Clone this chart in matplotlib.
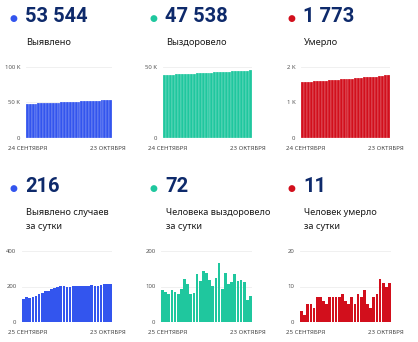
import matplotlib.pyplot as plt
import numpy as np

plt.rcParams['font.family'] = ['Noto Sans', 'DejaVu Sans']

W, H = 418, 342

BLUE = '#3355ee'
GREEN = '#1fc79e'
RED = '#d20f1c'
NAVY = '#0e2a6b'

titles = ['53 544', '47 538', '1 773', '216', '72', '11']
labels = ['Выявлено', 'Выздоровело', 'Умерло',
          'Выявлено случаев\nза сутки', 'Человека выздоровело\nза сутки',
          'Человек умерло\nза сутки']

total_cases = [48118, 48250, 48389, 48525, 48667, 48814, 48969, 49134, 49309, 49483,
               49667, 49859, 50055, 50256, 50460, 50659, 50857, 51061, 51263, 51468,
               51672, 51875, 52077, 52283, 52488, 52692, 52900, 53113, 53328, 53544]
total_recovered = [44430, 44520, 44605, 44684, 44775, 44860, 44939, 45033, 45155, 45263,
                   45342, 45425, 45561, 45677, 45820, 45959, 46078, 46180, 46305, 46472,
                   46565, 46703, 46809, 46922, 47056, 47172, 47290, 47404, 47466, 47538]
total_deaths = [1578, 1581, 1583, 1588, 1593, 1597, 1604, 1611, 1617, 1622,
                1629, 1636, 1643, 1650, 1658, 1664, 1669, 1676, 1681, 1689,
                1696, 1705, 1710, 1714, 1721, 1729, 1741, 1752, 1762, 1773]

daily_cases = [132, 139, 136, 142, 147, 155, 165, 175, 174, 184, 192, 196, 201, 204, 199,
               198, 204, 202, 205, 204, 203, 202, 206, 205, 204, 208, 213, 215, 216]
daily_recovered = [90, 85, 79, 91, 85, 79, 94, 122, 108, 79, 83, 136, 116, 143, 139,
                   119, 102, 125, 167, 93, 138, 106, 113, 134, 116, 118, 114, 62, 72]
daily_deaths = [3, 2, 5, 5, 4, 7, 7, 6, 5, 7, 7, 7, 7, 8, 6,
                5, 7, 5, 8, 7, 9, 5, 4, 7, 8, 12, 11, 10, 11]

series = [total_cases, total_recovered, total_deaths,
          daily_cases, daily_recovered, daily_deaths]
colors = [BLUE, GREEN, RED, BLUE, GREEN, RED]
yticks = [[0, 50000, 100000], [0, 50000], [0, 1000, 2000],
          [0, 200, 400], [0, 100, 200], [0, 10, 20]]
yticklabels = [['0', '50 K', '100 K'], ['0', '50 K'], ['0', '1 K', '2 K'],
               ['0', '200', '400'], ['0', '100', '200'], ['0', '10', '20']]
start_labels = ['24 СЕНТЯБРЯ'] * 3 + ['25 СЕНТЯБРЯ'] * 3
end_label = '23 ОКТЯБРЯ'

col_x = [0, 140, 278]
# (left, right) of plot areas, pixels, per panel
plot_x = [(26, 112), (163, 252), (301, 390),
          (22, 112), (161, 252), (300, 391)]
row_num_y = [17, 187]
row_label_y = [43, 213]
row_plot = [(67, 138), (251, 322)]

fig = plt.figure(figsize=(W / 100, H / 100), dpi=100)
fig.patch.set_facecolor('white')

for i, data in enumerate(series):
    row, col = divmod(i, 3)
    x0 = col_x[col]
    fig.text((x0 + 13) / W, 1 - (row_num_y[row] + 1) / H, '●', color=colors[i],
             fontsize=6.5, ha='center', va='center', family='DejaVu Sans')
    fig.text((x0 + 25) / W, 1 - row_num_y[row] / H, titles[i], color=NAVY,
             fontsize=14.5, fontweight='bold', ha='left', va='center',
             family=['Roboto', 'DejaVu Sans'])
    fig.text((x0 + 26) / W, 1 - (row_label_y[row] - 5) / H, labels[i], color='#1a1a1a',
             fontsize=6.6, ha='left', va='top', linespacing=1.65)

    left, right = plot_x[i]
    top, bottom = row_plot[row]
    ax = fig.add_axes([left / W, 1 - bottom / H, (right - left) / W, (bottom - top) / H])
    x = np.arange(len(data))
    if row == 0:
        ax.bar(x, data, width=1.0, color=colors[i], edgecolor='white', linewidth=0.15)
    else:
        ax.bar(x, data, width=0.86, color=colors[i], linewidth=0)
    ax.set_xlim(-0.5, len(data) - 0.5)
    ax.set_ylim(0, yticks[i][-1])
    ax.set_yticks(yticks[i])
    ax.set_yticklabels(yticklabels[i])
    ax.set_xticks([])
    ax.tick_params(axis='y', length=0, labelsize=4.3, labelcolor='#555555', pad=4)
    ax.grid(axis='y', color='#eeeeee', linewidth=0.6)
    ax.set_axisbelow(True)
    for s in ax.spines.values():
        s.set_visible(False)

    fig.text((x0 + 8) / W, 1 - (bottom + 10) / H, start_labels[i], fontsize=4.4,
             color='#444444', ha='left', va='center')
    fig.text((x0 + 126) / W, 1 - (bottom + 10) / H, end_label, fontsize=4.4,
             color='#444444', ha='right', va='center')

plt.savefig('out.png', dpi=100)
